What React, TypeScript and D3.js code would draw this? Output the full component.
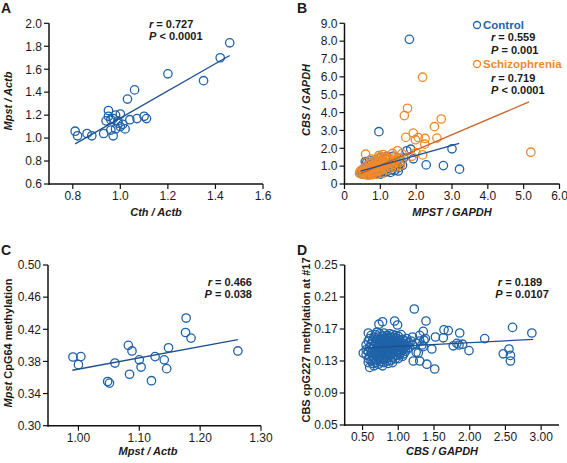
import React from "react";
import * as d3 from "d3";

// ---------- DATA ----------
// Panel A: Cth/Actb vs Mpst/Actb
const aX = [0.81, 0.82, 0.86, 0.88, 0.93, 0.94, 0.95, 0.95, 0.96, 0.96, 0.97, 0.97, 0.98, 0.98, 0.99, 0.99, 1.0, 1.0, 1.01, 1.02, 1.03, 1.04, 1.06, 1.07, 1.1, 1.11, 1.2, 1.35, 1.42, 1.46];
const aY = [1.06, 1.02, 1.04, 1.02, 1.04, 1.15, 1.19, 1.24, 1.16, 1.07, 1.02, 1.17, 1.2, 1.08, 1.13, 1.15, 1.21, 1.1, 1.12, 1.08, 1.34, 1.16, 1.42, 1.17, 1.19, 1.17, 1.56, 1.5, 1.7, 1.83];
const aFitX = [0.81, 1.46];
const aFitY = [0.95, 1.72];
const aXTicks = [0.8, 1.0, 1.2, 1.4, 1.6];
const aYTicks = [0.6, 0.8, 1.0, 1.2, 1.4, 1.6, 1.8, 2.0];

// Panel B: MPST/GAPDH vs CBS/GAPDH
const bControl: [number, number][] = [
  [1.81, 8.1], [0.96, 2.93], [3.0, 1.97], [3.21, 0.83], [2.76, 1.03], [2.28, 1.07], [1.74, 1.86], [1.85, 1.95], [1.92, 1.41], [1.5, 0.73], [0.62, 1.2],
  [0.45, 0.62], [0.48, 0.7], [0.5, 0.55], [0.52, 0.8], [0.55, 0.65], [0.57, 0.9], [0.58, 1.25], [0.6, 0.58], [0.62, 0.75], [0.64, 1.0],
  [0.66, 0.62], [0.68, 0.85], [0.7, 0.7], [0.72, 0.95], [0.74, 0.6], [0.75, 1.1], [0.77, 0.78], [0.79, 0.66], [0.8, 0.9], [0.82, 1.05],
  [0.84, 0.72], [0.85, 0.58], [0.87, 0.95], [0.88, 1.2], [0.9, 0.65], [0.92, 0.82], [0.93, 1.0], [0.95, 0.6], [0.96, 0.88], [0.98, 1.15],
  [1.0, 0.7], [1.01, 0.55], [1.03, 0.95], [1.05, 1.3], [1.06, 0.78], [1.08, 0.62], [1.1, 1.05], [1.12, 0.85], [1.14, 1.4], [1.16, 0.68],
  [1.18, 0.95], [1.2, 0.72], [1.22, 1.18], [1.25, 0.88], [1.28, 0.65], [1.3, 1.05], [1.33, 0.8], [1.36, 1.25], [1.4, 0.75], [1.43, 0.98],
  [1.46, 1.1], [1.5, 0.9], [1.55, 1.15], [1.58, 1.3], [1.62, 1.05], [1.65, 1.45], [0.7, 1.3], [0.85, 1.35], [1.0, 1.45], [1.18, 1.55], [1.35, 1.55],
];
const bSchizo: [number, number][] = [
  [2.18, 5.98], [1.76, 4.24], [1.67, 3.83], [2.7, 3.64], [2.51, 3.21], [1.92, 2.85], [1.71, 2.61], [2.06, 2.6], [2.25, 2.55], [2.58, 2.57],
  [1.98, 2.48], [2.24, 2.23], [2.18, 1.63], [5.2, 1.78], [0.59, 1.67], [1.48, 1.86], [1.34, 1.71], [1.99, 1.76], [1.88, 1.55], [1.6, 1.7], [1.42, 1.55],
  [0.42, 0.6], [0.44, 0.72], [0.46, 0.65], [0.48, 0.55], [0.5, 0.82], [0.52, 0.68], [0.54, 0.75], [0.55, 0.58], [0.57, 0.95], [0.58, 0.7],
  [0.6, 0.62], [0.62, 0.85], [0.63, 1.05], [0.65, 0.72], [0.66, 0.55], [0.68, 0.92], [0.7, 0.64], [0.71, 1.15], [0.73, 0.8], [0.74, 0.58],
  [0.76, 1.0], [0.77, 0.7], [0.79, 1.25], [0.8, 0.88], [0.82, 0.62], [0.83, 1.1], [0.85, 0.76], [0.86, 1.35], [0.88, 0.95], [0.89, 0.68],
  [0.91, 1.2], [0.92, 0.82], [0.94, 1.45], [0.95, 1.02], [0.97, 0.72], [0.98, 1.3], [1.0, 0.9], [1.01, 1.55], [1.03, 1.12], [1.04, 0.78],
  [1.06, 1.4], [1.07, 0.98], [1.09, 1.25], [1.1, 0.85], [1.12, 1.5], [1.13, 1.08], [1.15, 0.92], [1.17, 1.35], [1.19, 1.15], [1.21, 0.8],
  [1.23, 1.45], [1.25, 1.02], [1.28, 1.25], [1.3, 0.9], [1.33, 1.4], [1.36, 1.1], [1.4, 1.3], [1.44, 0.95], [1.48, 1.2], [1.52, 1.45],
  [1.56, 1.05], [1.6, 1.3], [0.62, 0.5], [0.78, 0.52], [0.9, 0.55], [1.05, 0.6], [0.96, 1.6], [1.08, 1.65], [0.75, 1.4], [0.7, 0.5],
];
const bControlFitX = [0.45, 3.2];
const bControlFitY = [0.72, 2.27];
const bSchizoFitX = [0.45, 5.15];
const bSchizoFitY = [0.58, 4.6];
const bXTicks = [0, 1, 2, 3, 4, 5, 6];
const bYTicks = [0, 1, 2, 3, 4, 5, 6, 7, 8, 9];

// Panel C: Mpst/Actb vs Mpst CpG64 methylation
const cX = [0.991, 1.004, 1.0, 1.048, 1.051, 1.06, 1.082, 1.088, 1.084, 1.1, 1.103, 1.12, 1.126, 1.141, 1.148, 1.145, 1.177, 1.176, 1.185, 1.262];
const cY = [0.3855, 0.386, 0.376, 0.355, 0.353, 0.378, 0.4, 0.393, 0.364, 0.382, 0.373, 0.356, 0.386, 0.382, 0.397, 0.371, 0.434, 0.416, 0.409, 0.393];
const cFitX = [0.99, 1.262];
const cFitY = [0.369, 0.407];
const cXTicks = [1.0, 1.1, 1.2, 1.3];
const cYTicks = [0.3, 0.34, 0.38, 0.42, 0.46, 0.5];

// Panel D: CBS/GAPDH vs CBS cpG227 methylation
const dPoints: [number, number][] = [
  [1.224, 0.195], [0.949, 0.18], [1.388, 0.18], [0.729, 0.176], [0.78, 0.179], [0.99, 0.175], [2.6, 0.172], [2.87, 0.165], [1.86, 0.165],
  [1.64, 0.169], [1.7, 0.168], [2.21, 0.158], [1.99, 0.143], [1.51, 0.12], [1.4, 0.126], [2.47, 0.139], [2.55, 0.145], [2.57, 0.137],
  [2.57, 0.13], [1.21, 0.13], [1.3, 0.13], [1.77, 0.149], [1.9, 0.151], [1.63, 0.159], [1.52, 0.16], [1.36, 0.156], [1.35, 0.167],
  [1.47, 0.145], [1.35, 0.148], [1.28, 0.14], [1.13, 0.145], [0.58, 0.128], [0.6, 0.122], [0.51, 0.14], [0.58, 0.165], [1.82, 0.152], [1.85, 0.15],
  [0.55, 0.138], [0.55, 0.15], [0.55, 0.144], [0.58, 0.155], [0.58, 0.142], [0.58, 0.133],
  [0.6, 0.147], [0.6, 0.136], [0.6, 0.158], [0.62, 0.151], [0.62, 0.14], [0.62, 0.13], [0.62, 0.162],
  [0.64, 0.145], [0.64, 0.155], [0.64, 0.135], [0.64, 0.127], [0.66, 0.149], [0.66, 0.16], [0.66, 0.141], [0.66, 0.132], [0.66, 0.124],
  [0.68, 0.153], [0.68, 0.144], [0.68, 0.137], [0.68, 0.163], [0.68, 0.128], [0.7, 0.147], [0.7, 0.157], [0.7, 0.139], [0.7, 0.131], [0.7, 0.166], [0.7, 0.15],
  [0.72, 0.143], [0.72, 0.152], [0.72, 0.135], [0.72, 0.16], [0.72, 0.126], [0.74, 0.148], [0.74, 0.156], [0.74, 0.14], [0.74, 0.133], [0.74, 0.164], [0.74, 0.145],
  [0.76, 0.151], [0.76, 0.142], [0.76, 0.158], [0.76, 0.129], [0.76, 0.137], [0.76, 0.147],
  [0.78, 0.146], [0.78, 0.154], [0.78, 0.138], [0.78, 0.161], [0.78, 0.132], [0.78, 0.149], [0.78, 0.124],
  [0.8, 0.15], [0.8, 0.143], [0.8, 0.157], [0.8, 0.135], [0.8, 0.165], [0.8, 0.128], [0.8, 0.146],
  [0.82, 0.147], [0.82, 0.153], [0.82, 0.14], [0.82, 0.159], [0.82, 0.133], [0.82, 0.144],
  [0.84, 0.152], [0.84, 0.145], [0.84, 0.138], [0.84, 0.162], [0.84, 0.13], [0.84, 0.149], [0.84, 0.156],
  [0.86, 0.148], [0.86, 0.141], [0.86, 0.155], [0.86, 0.134], [0.86, 0.16], [0.86, 0.127],
  [0.88, 0.151], [0.88, 0.144], [0.88, 0.158], [0.88, 0.137], [0.88, 0.147], [0.88, 0.164],
  [0.9, 0.146], [0.9, 0.153], [0.9, 0.139], [0.9, 0.131], [0.9, 0.16], [0.9, 0.15],
  [0.92, 0.149], [0.92, 0.142], [0.92, 0.156], [0.92, 0.135], [0.92, 0.163], [0.92, 0.128],
  [0.94, 0.152], [0.94, 0.145], [0.94, 0.138], [0.94, 0.159], [0.94, 0.147],
  [0.96, 0.148], [0.96, 0.155], [0.96, 0.141], [0.96, 0.133], [0.96, 0.162],
  [0.98, 0.151], [0.98, 0.144], [0.98, 0.137], [0.98, 0.158], [0.98, 0.149],
  [1.0, 0.147], [1.0, 0.154], [1.0, 0.14], [1.0, 0.133], [1.0, 0.161],
  [1.02, 0.15], [1.02, 0.143], [1.02, 0.156], [1.02, 0.138], [1.04, 0.146], [1.04, 0.153], [1.04, 0.141], [1.04, 0.163],
  [1.06, 0.149], [1.06, 0.144], [1.06, 0.157], [1.06, 0.136], [1.08, 0.152], [1.08, 0.139], [1.08, 0.146],
  [1.1, 0.148], [1.1, 0.155], [1.1, 0.142], [1.12, 0.15], [1.12, 0.158], [1.15, 0.147], [1.15, 0.153], [1.18, 0.155],
  [1.2, 0.15], [1.2, 0.16], [1.25, 0.152], [1.25, 0.141], [1.3, 0.155], [1.3, 0.162], [1.33, 0.15], [1.38, 0.158],
];
const dFitX = [0.51, 2.89];
const dFitY = [0.146, 0.157];
const dXTicks = [0.5, 1.0, 1.5, 2.0, 2.5, 3.0];
const dYTicks = [0.05, 0.09, 0.13, 0.17, 0.21, 0.25];

// ---------- STYLE ----------
const BLUE = "#1f63a8";
const ORANGE = "#ee8a2e";
const BLUE_LINE = "#1d4f8f";
const ORANGE_LINE = "#c8642a";
const FONT = "'Liberation Sans', Arial, Helvetica, sans-serif";
const TXT = "#1a1a1a";
const TICK_FS = 12;

type Series = { pts: [number, number][]; color: string };
type Fit = { x: number[]; y: number[]; color: string };

function Panel(props: {
  xDomain: [number, number];
  yDomain: [number, number];
  xRange: [number, number];
  yRange: [number, number];
  xTicks: number[];
  yTicks: number[];
  xFmt: (v: number) => string;
  yFmt: (v: number) => string;
  series: Series[];
  fits: Fit[];
}) {
  const x = d3.scaleLinear().domain(props.xDomain).range(props.xRange);
  const y = d3.scaleLinear().domain(props.yDomain).range(props.yRange);
  const x0 = props.xRange[0];
  const y0 = props.yRange[0];
  const line = d3
    .line<[number, number]>()
    .x((d) => x(d[0]))
    .y((d) => y(d[1]));
  return (
    <g>
      {props.series.map((s, si) => (
        <g key={si}>
          {s.pts.map((p, i) => (
            <circle key={i} cx={x(p[0])} cy={y(p[1])} r={4.2} fill="none" stroke={s.color} strokeWidth={1.3} />
          ))}
        </g>
      ))}
      {props.fits.map((f, fi) => (
        <path
          key={fi}
          d={line(f.x.map((v, i) => [v, f.y[i]] as [number, number])) || ""}
          stroke={f.color}
          strokeWidth={1.3}
          fill="none"
        />
      ))}
      <line x1={x0} x2={props.xRange[1]} y1={y0} y2={y0} stroke="#111" strokeWidth={1.5} />
      <line x1={x0} x2={x0} y1={y0 + 1} y2={props.yRange[1]} stroke="#111" strokeWidth={1.5} />
      {props.xTicks.map((t, i) => (
        <g key={"xt" + i}>
          <line x1={x(t)} x2={x(t)} y1={y0} y2={y0 + 5} stroke="#111" strokeWidth={1.2} />
          <text x={x(t)} y={y0 + 16} textAnchor="middle" fontSize={TICK_FS} fill={TXT} fontFamily={FONT}>
            {props.xFmt(t)}
          </text>
        </g>
      ))}
      {props.yTicks.map((t, i) => (
        <g key={"yt" + i}>
          <line x1={x0 - 5} x2={x0} y1={y(t)} y2={y(t)} stroke="#111" strokeWidth={1.2} />
          <text x={x0 - 7} y={y(t) + 4.3} textAnchor="end" fontSize={TICK_FS} fill={TXT} fontFamily={FONT}>
            {props.yFmt(t)}
          </text>
        </g>
      ))}
    </g>
  );
}

const f1 = d3.format(".1f");
const f2 = d3.format(".2f");
const fB = (v: number) => (v === 0 ? "0" : f1(v));

const toPts = (xs: number[], ys: number[]) => xs.map((v, i) => [v, ys[i]] as [number, number]);

function Stat(props: { x: number; y: number; sym: string; rest: string; anchor?: string; fill?: string }) {
  return (
    <text x={props.x} y={props.y} fontSize={11} fontWeight="bold" fill={props.fill || TXT} fontFamily={FONT} textAnchor={props.anchor || "start"}>
      <tspan fontStyle="italic">{props.sym}</tspan>
      {props.rest}
    </text>
  );
}

export default function App() {
  const titleStyle = { fontSize: 11, fontWeight: "bold" as const, fill: TXT, fontFamily: FONT };
  return (
    <svg width={567} height={463} style={{ position: "absolute", left: 0, top: 0, background: "#fff" }}>
      <rect width={567} height={463} fill="#fff" />
      {/* Panel A */}
      <text x={1} y={13} fontSize={14} fontWeight="bold" fontFamily={FONT} fill={TXT}>A</text>
      <Panel
        xDomain={[0.7, 1.6]}
        yDomain={[0.6, 2.0]}
        xRange={[49, 263]}
        yRange={[184, 23.3]}
        xTicks={aXTicks}
        yTicks={aYTicks}
        xFmt={f1}
        yFmt={f1}
        series={[{ pts: toPts(aX, aY), color: BLUE }]}
        fits={[{ x: aFitX, y: aFitY, color: BLUE_LINE }]}
      />
      <Stat x={149} y={28} sym="r" rest=" = 0.727" />
      <Stat x={149} y={40} sym="P" rest=" < 0.0001" />
      <text x={156} y={216} textAnchor="middle" {...titleStyle} fontStyle="italic">Cth / Actb</text>
      <text transform="translate(12,101) rotate(-90)" textAnchor="middle" {...titleStyle} fontStyle="italic">Mpst / Actb</text>

      {/* Panel B */}
      <text x={297} y={13} fontSize={14} fontWeight="bold" fontFamily={FONT} fill={TXT}>B</text>
      <Panel
        xDomain={[0, 6]}
        yDomain={[0, 9]}
        xRange={[344.5, 559.5]}
        yRange={[184, 23.3]}
        xTicks={bXTicks}
        yTicks={bYTicks}
        xFmt={fB}
        yFmt={fB}
        series={[
          { pts: bControl, color: BLUE },
          { pts: bSchizo, color: ORANGE },
        ]}
        fits={[
          { x: bSchizoFitX, y: bSchizoFitY, color: ORANGE_LINE },
          { x: bControlFitX, y: bControlFitY, color: BLUE_LINE },
        ]}
      />
      <circle cx={477} cy={25} r={3.5} fill="none" stroke={BLUE} strokeWidth={1.3} />
      <text x={483} y={29} fontSize={11.5} fontWeight="bold" fill={BLUE} fontFamily={FONT}>Control</text>
      <Stat x={491} y={41} sym="r" rest=" = 0.559" />
      <Stat x={491} y={54} sym="P" rest=" = 0.001" />
      <circle cx={477} cy={64} r={3.5} fill="none" stroke={ORANGE} strokeWidth={1.3} />
      <text x={483} y={68} fontSize={11.5} fontWeight="bold" fill={ORANGE} fontFamily={FONT}>Schizophrenia</text>
      <Stat x={491} y={82} sym="r" rest=" = 0.719" />
      <Stat x={491} y={94} sym="P" rest=" < 0.0001" />
      <text x={452} y={216} textAnchor="middle" {...titleStyle} fontStyle="italic">MPST / GAPDH</text>
      <text transform="translate(310,100) rotate(-90)" textAnchor="middle" {...titleStyle} fontStyle="italic">CBS / GAPDH</text>

      {/* Panel C */}
      <text x={1} y={255} fontSize={14} fontWeight="bold" fontFamily={FONT} fill={TXT}>C</text>
      <Panel
        xDomain={[0.95, 1.3]}
        yDomain={[0.3, 0.5]}
        xRange={[48, 261]}
        yRange={[425.7, 265]}
        xTicks={cXTicks}
        yTicks={cYTicks}
        xFmt={f2}
        yFmt={f2}
        series={[{ pts: toPts(cX, cY), color: BLUE }]}
        fits={[{ x: cFitX, y: cFitY, color: BLUE_LINE }]}
      />
      <Stat x={252} y={286} sym="r" rest=" = 0.466" anchor="end" />
      <Stat x={252} y={298} sym="P" rest=" = 0.038" anchor="end" />
      <text x={148} y={455} textAnchor="middle" {...titleStyle} fontStyle="italic">Mpst / Actb</text>
      <text transform="translate(12,343) rotate(-90)" textAnchor="middle" {...titleStyle}>
        <tspan fontStyle="italic">Mpst</tspan> CpG64 methylation
      </text>

      {/* Panel D */}
      <text x={297} y={255} fontSize={14} fontWeight="bold" fontFamily={FONT} fill={TXT}>D</text>
      <Panel
        xDomain={[0.25, 3.25]}
        yDomain={[0.05, 0.25]}
        xRange={[344.7, 559]}
        yRange={[425, 265]}
        xTicks={dXTicks}
        yTicks={dYTicks}
        xFmt={f2}
        yFmt={f2}
        series={[{ pts: dPoints, color: BLUE }]}
        fits={[{ x: dFitX, y: dFitY, color: BLUE_LINE }]}
      />
      <Stat x={520} y={286} sym="r" rest=" = 0.189" anchor="middle" />
      <Stat x={522} y={298} sym="P" rest=" = 0.0107" anchor="middle" />
      <text x={442} y={455} textAnchor="middle" {...titleStyle} fontStyle="italic">CBS / GAPDH</text>
      <text transform="translate(310,340) rotate(-90)" textAnchor="middle" {...titleStyle}>
        CBS cpG227 methylation at #17
      </text>
    </svg>
  );
}
